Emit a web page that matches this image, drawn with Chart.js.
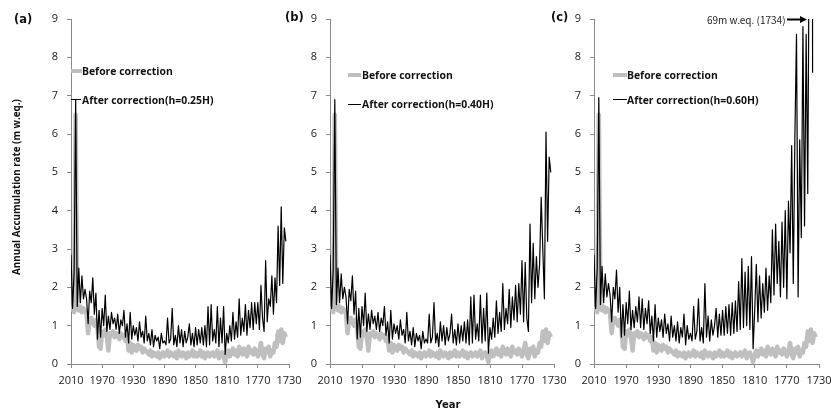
<!DOCTYPE html>
<html>
<head>
<meta charset="utf-8">
<script src="https://cdn.jsdelivr.net/npm/chart.js@4.4.0/dist/chart.umd.min.js"></script>
<style>
  html, body { margin: 0; padding: 0; background: #fff; }
  #wrap { position: relative; width: 831px; height: 412px; overflow: hidden; font-family: 'Open Sans', sans-serif; color: #111; }
  #wrap canvas { position: absolute; left: 0; top: 0; }
  .lbl { position: absolute; white-space: nowrap; }
  .panel { font-family: 'DejaVu Sans', sans-serif; font-weight: bold; font-size: 11.5px; line-height: 14px; }
  .leg { font-weight: bold; font-size: 10.4px; line-height: 12px; }
  .sw { position: absolute; }
</style>
</head>
<body>
<div id="wrap">
  <canvas id="chartA" width="831" height="412"></canvas>
  <canvas id="chartB" width="831" height="412"></canvas>
  <canvas id="chartC" width="831" height="412"></canvas>

  <div class="lbl panel" style="left:14px;top:12px;">(a)</div>
  <div class="lbl panel" style="left:285px;top:10px;">(b)</div>
  <div class="lbl panel" style="left:551px;top:10px;">(c)</div>

  <div class="lbl" style="left:-83px;top:181px;width:200px;text-align:center;transform:rotate(-90deg);font-weight:bold;font-size:9.8px;line-height:12px;">Annual Accumulation rate (m w.eq.)</div>
  <div class="lbl" style="left:398px;top:398px;width:100px;text-align:center;font-family:'DejaVu Sans';font-weight:bold;font-size:10px;line-height:14px;">Year</div>

  <!-- legends -->
  <div class="sw" style="left:71px;top:69px;width:11px;height:4px;background:#bfbfbf;"></div>
  <div class="lbl leg" style="left:82px;top:65px;">Before correction</div>
  <div class="sw" style="left:71px;top:99px;width:10px;height:1px;background:#000;"></div>
  <div class="lbl leg" style="left:82px;top:94px;">After correction(h=0.25H)</div>

  <div class="sw" style="left:348px;top:73px;width:13px;height:4px;background:#bfbfbf;"></div>
  <div class="lbl leg" style="left:362px;top:69px;">Before correction</div>
  <div class="sw" style="left:348px;top:104px;width:13px;height:1px;background:#000;"></div>
  <div class="lbl leg" style="left:362px;top:98px;">After correction(h=0.40H)</div>

  <div class="sw" style="left:613px;top:73px;width:14px;height:4px;background:#bfbfbf;"></div>
  <div class="lbl leg" style="left:627px;top:69px;">Before correction</div>
  <div class="sw" style="left:613px;top:99px;width:14px;height:1px;background:#000;"></div>
  <div class="lbl leg" style="left:627px;top:94px;">After correction(h=0.60H)</div>

  <div class="lbl" style="left:707px;top:14px;font-family:'Noto Sans CJK JP',sans-serif;font-size:10px;line-height:12px;color:#222;">69m w.eq. (1734)</div>
  <svg style="position:absolute;left:785px;top:14px;" width="25" height="12">
    <line x1="2" y1="5.5" x2="17" y2="5.5" stroke="#000" stroke-width="2"/>
    <polygon points="22,5.5 15,2 15,9" fill="#000"/>
  </svg>
</div>

<script>
// years, newest first (2-year step)
var years = [2010,2008,2006,2004,2002,2000,1998,1996,1994,1992,
  1990,1988,1986,1984,1982,1980,1978,1976,1974,1972,
  1970,1968,1966,1964,1962,1960,1958,1956,1954,1952,
  1950,1948,1946,1944,1942,1940,1938,1936,1934,1932,
  1930,1928,1926,1924,1922,1920,1918,1916,1914,1912,
  1910,1908,1906,1904,1902,1900,1898,1896,1894,1892,
  1890,1888,1886,1884,1882,1880,1878,1876,1874,1872,
  1870,1868,1866,1864,1862,1860,1858,1856,1854,1852,
  1850,1848,1846,1844,1842,1840,1838,1836,1834,1832,
  1830,1828,1826,1824,1822,1820,1818,1816,1814,1812,
  1810,1808,1806,1804,1802,1800,1798,1796,1794,1792,
  1790,1788,1786,1784,1782,1780,1778,1776,1774,1772,
  1770,1768,1766,1764,1762,1760,1758,1756,1754,1752,
  1750,1748,1746,1744,1742,1740,1738,1736,1734];

// before correction (same in all panels)
var beforeCorr = [1.40,1.45,1.35,6.50,1.45,1.40,1.50,1.35,1.45,1.40,
  1.30,0.80,1.15,1.20,1.10,1.00,1.15,0.95,0.45,0.40,
  0.85,0.75,0.90,0.70,0.35,0.80,0.75,0.85,0.70,0.80,
  0.75,0.65,0.80,0.70,0.75,0.60,0.70,0.35,0.55,0.30,
  0.50,0.45,0.35,0.50,0.40,0.45,0.30,0.40,0.35,0.30,
  0.25,0.35,0.20,0.30,0.25,0.20,0.30,0.15,0.25,0.30,
  0.20,0.25,0.35,0.20,0.30,0.25,0.20,0.30,0.15,0.35,
  0.25,0.20,0.30,0.25,0.15,0.30,0.20,0.25,0.35,0.20,
  0.30,0.20,0.25,0.35,0.20,0.30,0.15,0.25,0.30,0.20,
  0.25,0.30,0.20,0.25,0.35,0.15,0.25,0.30,0.20,0.05,
  0.25,0.35,0.20,0.30,0.40,0.25,0.35,0.20,0.45,0.30,
  0.25,0.40,0.30,0.20,0.45,0.30,0.35,0.25,0.40,0.30,
  0.20,0.35,0.55,0.25,0.15,0.40,0.30,0.45,0.20,0.35,
  0.30,0.55,0.45,0.85,0.60,0.90,0.55,0.80,0.70];

// after correction, h=0.25H
var afterA = [2.85,1.45,2.40,6.90,1.50,2.50,1.60,2.30,1.70,1.95,
  1.70,1.05,1.90,1.60,2.25,1.30,1.85,0.65,1.40,0.70,
  1.45,1.00,1.80,0.85,1.25,0.90,1.35,1.05,1.20,0.90,
  1.30,0.80,1.15,1.00,1.40,0.70,1.05,0.55,1.35,0.65,
  1.00,0.75,0.95,0.60,1.10,0.70,0.85,0.55,1.25,0.60,
  0.80,0.50,0.90,0.45,0.75,0.60,0.70,0.40,0.80,0.55,
  0.60,0.50,1.20,0.55,0.65,1.45,0.50,0.75,0.45,1.00,
  0.55,0.90,0.45,0.85,0.55,0.70,1.05,0.50,0.80,0.45,
  0.95,0.50,0.90,0.55,0.95,0.50,1.00,0.45,1.50,0.50,
  1.55,0.60,0.90,0.55,1.50,0.45,1.20,0.55,1.50,0.25,
  0.80,0.55,1.00,0.60,1.35,0.65,1.10,0.70,1.70,0.75,
  1.20,0.85,1.55,0.75,1.40,0.95,1.60,0.90,1.60,1.05,
  1.60,0.90,2.05,1.20,0.85,2.70,1.10,1.70,1.50,2.30,
  1.30,2.25,1.60,3.60,2.05,4.10,2.10,3.55,3.20];

// after correction, h=0.40H
var afterB = [2.85,1.45,2.45,6.90,1.55,2.50,1.60,2.35,1.70,2.00,
  1.75,1.05,1.95,1.65,2.30,1.30,1.90,0.65,1.45,0.70,
  1.50,1.00,1.85,0.85,1.30,0.90,1.40,1.05,1.25,0.90,
  1.35,0.85,1.20,1.00,1.50,0.75,1.10,0.55,1.40,0.65,
  1.05,0.80,1.00,0.65,1.15,0.75,0.90,0.55,1.35,0.60,
  0.85,0.50,0.95,0.45,0.80,0.60,0.75,0.40,0.85,0.55,
  0.65,0.55,1.30,0.55,0.70,1.60,0.55,0.80,0.45,1.10,
  0.60,1.00,0.50,0.95,0.60,0.80,1.30,0.55,0.90,0.50,
  1.05,0.55,1.00,0.60,1.10,0.55,1.15,0.50,1.75,0.55,
  1.80,0.65,1.05,0.60,1.80,0.55,1.45,0.60,1.85,0.28,
  0.95,0.65,1.20,0.70,1.65,0.80,1.35,0.85,2.10,0.90,
  1.45,1.05,1.95,0.95,1.75,1.15,2.05,1.10,2.10,1.30,
  2.70,1.10,2.65,1.20,0.85,3.65,1.60,3.15,1.70,2.80,
  2.00,2.60,4.35,3.00,1.70,6.05,3.20,5.40,5.00];

// after correction, h=0.60H (1740 value is 69 m w.eq., off scale)
var afterC = [2.85,1.45,2.50,6.95,1.55,2.55,1.60,2.35,1.75,2.10,
  1.80,1.10,2.00,1.70,2.45,1.35,2.00,0.70,1.55,0.75,
  1.60,1.05,1.90,0.90,1.40,0.95,1.50,1.10,1.75,0.95,
  1.70,0.90,1.45,1.05,1.65,0.80,1.25,0.60,1.55,0.70,
  1.20,0.85,1.15,0.70,1.30,0.80,1.05,0.60,1.25,0.70,
  1.00,0.60,1.10,0.55,0.95,0.70,1.30,0.50,1.00,0.65,
  0.80,0.60,1.50,0.65,0.85,1.70,0.60,0.95,0.55,2.10,
  0.70,1.25,0.60,1.15,0.75,1.00,1.45,0.70,1.30,0.75,
  1.40,0.75,1.50,0.80,1.55,0.75,1.60,0.80,1.65,0.85,
  2.15,0.90,2.75,0.95,2.40,1.00,2.55,0.90,2.80,0.40,
  1.40,2.60,1.10,2.30,1.20,2.10,1.35,2.50,1.40,2.30,
  1.60,3.50,1.80,3.65,2.10,3.20,1.75,3.70,2.00,4.00,
  1.70,4.25,2.90,5.70,2.10,5.95,8.60,1.75,5.85,3.30,
  8.80,3.60,8.60,4.45,12.0,69.0,7.60,null,null];

var xTicks = [2010,1970,1930,1890,1850,1810,1770,1730];
var yTicks = [0,1,2,3,4,5,6,7,8,9];

var axisColor = '#8a8a8a';
var tickFont = { family: 'Open Sans', size: 11 };

function points(vals) {
  return years.map(function(y, i) { return { x: y, y: vals[i] }; });
}

function makeChart(id, afterVals, padLeft, yWidth, padRight) {
  var ctx = document.getElementById(id).getContext('2d');
  return new Chart(ctx, {
    type: 'line',
    data: {
      datasets: [{
        label: 'After correction',
        data: points(afterVals),
        borderColor: '#000',
        borderWidth: 1.2,
        borderJoinStyle: 'round',
        pointRadius: 0,
        tension: 0,
        clip: 0,
        order: 0
      }, {
        label: 'Before correction',
        data: points(beforeCorr),
        borderColor: '#bfbfbf',
        borderWidth: 4.5,
        borderJoinStyle: 'round',
        pointRadius: 0,
        tension: 0,
        clip: 0,
        order: 1
      }]
    },
    options: {
      responsive: false,
      animation: false,
      events: [],
      layout: { padding: { left: padLeft, right: padRight, top: 19, bottom: 0 } },
      plugins: { legend: { display: false }, tooltip: { enabled: false } },
      scales: {
        x: {
          type: 'linear',
          reverse: true,
          min: 1730,
          max: 2010,
          afterBuildTicks: function(s) { s.ticks = xTicks.map(function(v) { return { value: v }; }); },
          afterFit: function(s) { s.height = 48; s.paddingLeft = 0; s.paddingRight = 0; },
          ticks: { callback: function(v) { return String(v); }, font: tickFont, color: '#222', padding: 6, maxRotation: 0, autoSkip: false },
          grid: { drawOnChartArea: false, drawTicks: true, tickLength: 4, color: axisColor },
          border: { color: axisColor, width: 1 }
        },
        y: {
          min: 0,
          max: 9,
          afterBuildTicks: function(s) { s.ticks = yTicks.map(function(v) { return { value: v }; }); },
          afterFit: function(s) { s.width = yWidth; s.paddingTop = 0; s.paddingBottom = 0; },
          ticks: { font: tickFont, color: '#222', padding: 9 },
          grid: { drawOnChartArea: false, drawTicks: true, tickLength: 4, color: axisColor },
          border: { color: axisColor, width: 1 }
        }
      }
    }
  });
}

makeChart('chartA', afterA, 0, 71, 542);
makeChart('chartB', afterB, 300, 30, 277);
makeChart('chartC', afterC, 565, 29, 12);
</script>
</body>
</html>
